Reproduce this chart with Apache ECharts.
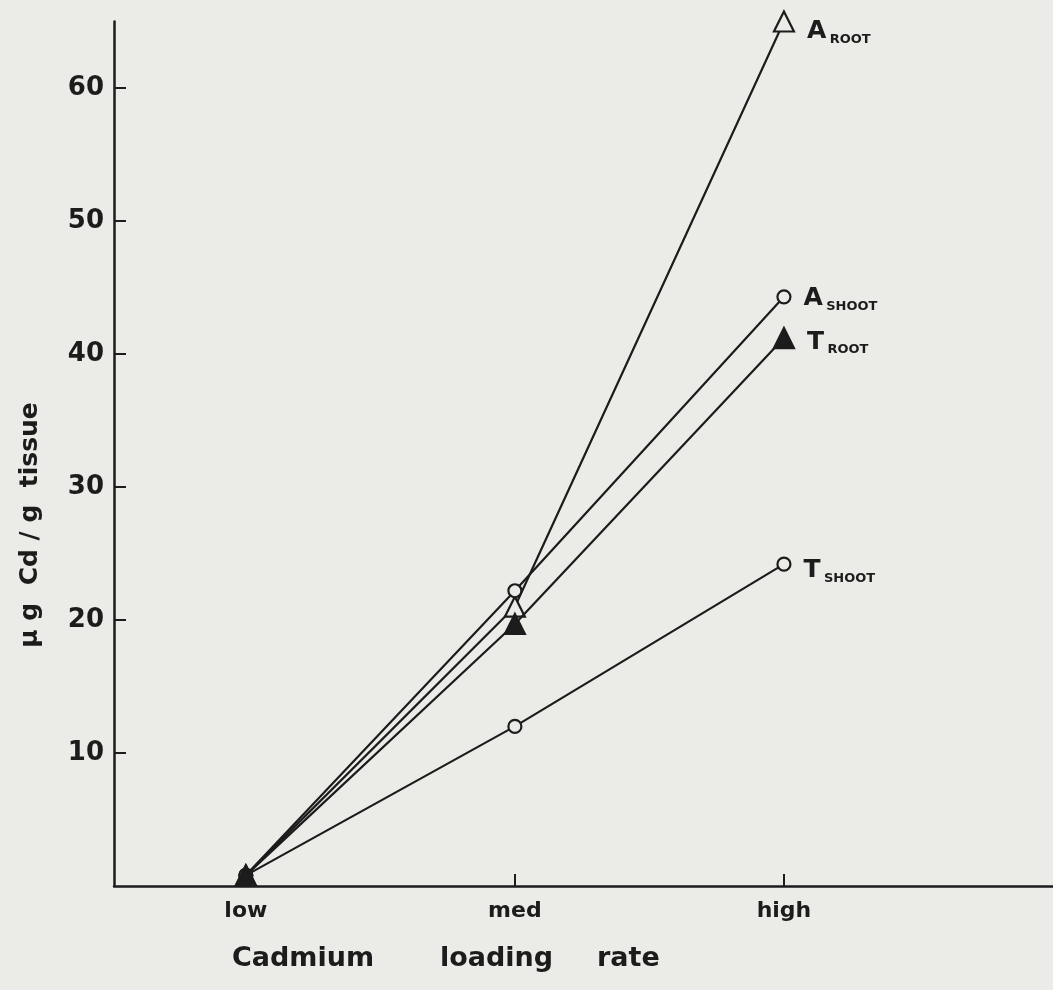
<!DOCTYPE html>
<html>
<head>
<meta charset="utf-8">
<script src="https://cdn.jsdelivr.net/npm/echarts@6/dist/echarts.min.js"></script>
<style>
html,body{margin:0;padding:0;background:#ebebe8;}
#c{width:1053px;height:990px;}
</style>
</head>
<body>
<div id="c"></div>
<script>
const categories = ['low', 'med', 'high'];
const yTicks = [10, 20, 30, 40, 50, 60];
const aRoot = [0.8, 21.0, 65.0];
const aShoot = [0.8, 22.2, 44.3];
const tRoot = [0.8, 19.7, 41.2];
const tShoot = [0.8, 12.0, 24.2];
const seriesNames = [['A', 'ROOT'], ['A', 'SHOOT'], ['T', 'ROOT'], ['T', 'SHOOT']];
const xTitleWords = ['Cadmium', 'loading', 'rate'];
const yTitle = 'µ g  Cd / g  tissue';

const FONT = 'DejaVu Sans';
const INK = '#1c1c1c';
const BG = '#ebebe8';

function mk(values, nm, symbol, filled, size, labelDy, z) {
  return {
    type: 'line',
    name: nm[0] + ' ' + nm[1],
    z: z,
    data: values.map((v, i) => [i, v]),
    symbol: symbol,
    symbolSize: size,
    showAllSymbol: true,
    lineStyle: { color: INK, width: 2.2 },
    itemStyle: { color: filled ? INK : BG, borderColor: INK, borderWidth: 2.2 },
    label: {
      show: true,
      position: 'right',
      distance: 12,
      offset: [0, labelDy],
      formatter: p => p.dataIndex === values.length - 1 ? '{a|' + nm[0] + '} {s|' + nm[1] + '}' : '',
      rich: {
        a: { fontFamily: FONT, fontWeight: 'bold', fontSize: 25, color: INK, verticalAlign: 'bottom' },
        s: { fontFamily: FONT, fontWeight: 'bold', fontSize: 13, color: INK, verticalAlign: 'bottom', padding: [0, 0, -2, 0] }
      }
    },
    emphasis: { disabled: true },
    animation: false
  };
}

const titleStyle = { fontFamily: FONT, fontWeight: 'bold', fontSize: 27, fill: INK, align: 'left', verticalAlign: 'middle' };
const chart = echarts.init(document.getElementById('c'), null, { renderer: 'canvas' });
chart.setOption({
  backgroundColor: BG,
  animation: false,
  graphic: [
    { type: 'text', x: 232, y: 959, style: Object.assign({ text: xTitleWords[0] }, titleStyle) },
    { type: 'text', x: 440, y: 959, style: Object.assign({ text: xTitleWords[1] }, titleStyle) },
    { type: 'text', x: 597, y: 959, style: Object.assign({ text: xTitleWords[2] }, titleStyle) },
    {
      type: 'text', x: 30, y: 525, rotation: Math.PI / 2,
      style: { text: yTitle, fontFamily: FONT, fontWeight: 'bold', fontSize: 25, fill: INK, align: 'center', verticalAlign: 'middle' }
    }
  ],
  grid: { left: 114, right: -5, top: 21.5, bottom: 104, containLabel: false },
  xAxis: {
    type: 'value',
    min: -0.49, max: 3,
    splitLine: { show: false },
    axisLine: { show: true, onZero: false, lineStyle: { color: INK, width: 2.5 } },
    axisTick: { show: true, inside: true, length: 12, lineStyle: { color: INK, width: 2 }, customValues: [0, 1, 2] },
    axisLabel: {
      customValues: [0, 1, 2],
      formatter: v => categories[Math.round(v)] || '',
      margin: 14,
      fontFamily: FONT, fontWeight: 'bold', fontSize: 22, color: INK
    }
  },
  yAxis: {
    type: 'value',
    min: 0, max: 65,
    splitLine: { show: false },
    axisLine: { show: true, onZero: false, lineStyle: { color: INK, width: 2.5 } },
    axisTick: { show: true, inside: true, length: 12, lineStyle: { color: INK, width: 2 }, customValues: yTicks },
    axisLabel: {
      customValues: yTicks,
      margin: 10,
      fontFamily: FONT, fontWeight: 'bold', fontSize: 26, color: INK
    }
  },
  series: [
    mk(aRoot, seriesNames[0], 'triangle', false, 20, 10, 2),
    mk(aShoot, seriesNames[1], 'circle', false, 13, 2, 3),
    mk(tShoot, seriesNames[3], 'circle', false, 13, 6, 3),
    mk(tRoot, seriesNames[2], 'triangle', true, 20, 4, 4)
  ]
});
</script>
</body>
</html>
